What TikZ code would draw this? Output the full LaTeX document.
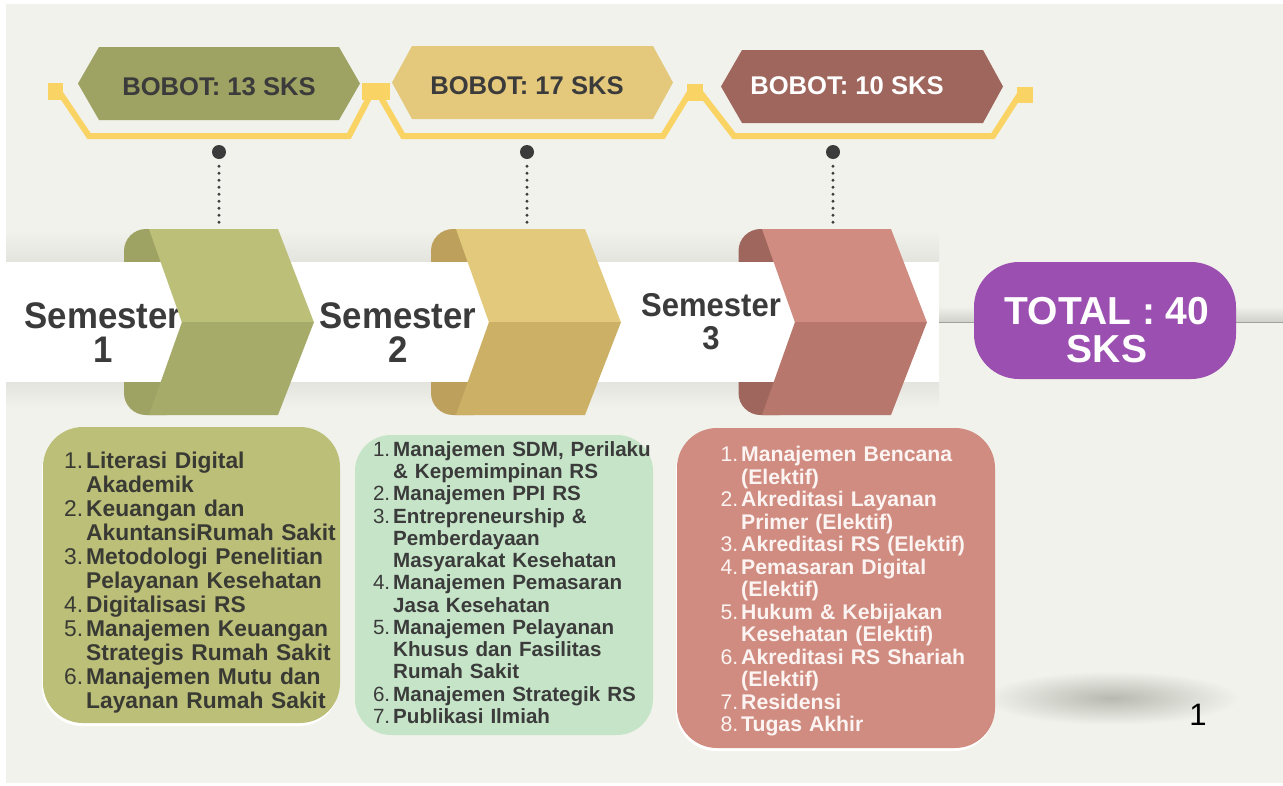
\documentclass[tikz,border=0pt]{standalone}
\usepackage{fontspec}
\setmainfont{Liberation Sans}
\newfontfamily\semfont[FakeStretch=0.94]{Liberation Sans}
\definecolor{bg}{HTML}{F1F2EB}
\definecolor{track}{HTML}{F9D465}
\definecolor{hexA}{HTML}{9EA262}
\definecolor{hexB}{HTML}{E4C97C}
\definecolor{hexC}{HTML}{9E665C}
\definecolor{upA}{HTML}{BBBF78}
\definecolor{loA}{HTML}{A6AB6A}
\definecolor{tabA}{HTML}{9EA262}
\definecolor{upB}{HTML}{E3C97C}
\definecolor{loB}{HTML}{CCB066}
\definecolor{tabB}{HTML}{BDA05C}
\definecolor{upC}{HTML}{D08C80}
\definecolor{loC}{HTML}{B7776C}
\definecolor{tabC}{HTML}{9E665C}
\definecolor{boxA}{HTML}{BBBF78}
\definecolor{boxB}{HTML}{C6E5C8}
\definecolor{boxC}{HTML}{D08C80}
\definecolor{purp}{HTML}{9B50B1}
\definecolor{txtdark}{HTML}{3B3B3B}
\definecolor{txtA}{HTML}{3A3A34}
\definecolor{txtlight}{HTML}{FCF4F2}
\definecolor{shadowc}{HTML}{E3E4DD}
\newlength\numw
\newcommand\itm[2]{\par\noindent\hangindent=\numw\hangafter=1\makebox[\numw][r]{\mdseries#1\hspace{3pt}}#2\par}
\tikzset{
  trk/.style={draw=track, line width=6pt, line join=miter},
  trksq/.style={fill=track},
  hexlbl/.style={font=\fontsize{25.6}{28}\selectfont\bfseries, inner sep=0pt, anchor=base},
  semlbl/.style={font=\semfont\bfseries\fontsize{37}{34}\selectfont, align=center, text=txtdark, inner sep=0pt},
  pin/.style={circle, fill=txtdark, minimum size=14pt, inner sep=0pt},
  dotline/.style={draw=txtdark, line width=3.2pt, line cap=round, dash pattern=on 0pt off 7pt, shorten <=7pt},
  listtxt/.style={anchor=base west, inner sep=0pt, text width=300pt, align=left},
  listbox/.style={rounded corners=40pt, inner sep=0pt},
}
\begin{document}
\begin{tikzpicture}[x=1pt,y=-1pt]
\useasboundingbox (0,0) rectangle (1283,785);
\fill[white] (0,0) rectangle (1283,785);
\fill[bg] (6,4) rectangle (1283,783);
% floor shadow
\shade[inner color={rgb,255:red,184;green,185;blue,177}, outer color=bg] (1112,698) ellipse (128 and 27);
% band shadows
\shade[top color=bg, bottom color=shadowc] (6,230) rectangle (939,262);
\shade[top color=shadowc, bottom color=bg] (6,382) rectangle (939,408);
\shade[top color=bg, bottom color={rgb,255:red,208;green,209;blue,202}] (939,306) rectangle (1283,322);
\draw[line width=1.5pt, draw={rgb,255:red,160;green,161;blue,154}] (939,322.5) -- (1283,322.5);
% track
\draw[trk] (58,90) -- (89,136) -- (349,136) -- (372,92);
\draw[trk] (380,96) -- (403,136) -- (663,136) -- (690,92);
\draw[trk] (700,92) -- (734,136) -- (993,136) -- (1020,94);
\fill[trksq] (48,83) rectangle (63,100);
\fill[trksq] (362,83) rectangle (390,100);
\fill[trksq] (687,84) rectangle (703,101);
\fill[trksq] (1017,87) rectangle (1033,103);
% hexagons
\fill[hexA] (78,83.5) -- (99,47) -- (339,47) -- (360,83.5) -- (339,120) -- (99,120) -- cycle;
\fill[hexB] (392,82.5) -- (412,46) -- (653,46) -- (673,82.5) -- (653,119) -- (412,119) -- cycle;
\fill[hexC] (721,86.5) -- (742,50) -- (983,50) -- (1003,86.5) -- (983,123) -- (742,123) -- cycle;
\node[hexlbl, text=txtdark] (h1) at (219,95) {BOBOT: 13 SKS};
\node[hexlbl, text=txtdark] (h2) at (527,94.5) {BOBOT: 17 SKS};
\node[hexlbl, text=white] (h3) at (847,94) {BOBOT: 10 SKS};
% pins and dotted connectors
\node[pin] (p1) at (219,152) {};
\node[pin] (p2) at (527,152) {};
\node[pin] (p3) at (833,152) {};
\coordinate (t1) at (219,229);
\coordinate (t2) at (527,229);
\coordinate (t3) at (833,229);
\draw[dotline] (p1) -- (t1);
\draw[dotline] (p2) -- (t2);
\draw[dotline] (p3) -- (t3);
% chevron tabs
\foreach \x/\t/\o in {149/tabA/25, 456/tabB/25, 762/tabC/23.5}
  \fill[\t, rounded corners=22pt] ({\x+40},229) -- ({\x-\o},229) -- ({\x-\o},415) -- ({\x+40},415) -- cycle;
% white band
\fill[white] (6,262) rectangle (939,382);
% semester labels
\node[semlbl] (s1) at (103,333) {Semester\\1};
\node[semlbl] (s2) at (398,333) {Semester\\2};
\node[semlbl, font=\semfont\bfseries\fontsize{33}{33}\selectfont] (s3) at (711,322) {Semester\\3};
% chevrons
\foreach \x/\u/\l in {149/upA/loA, 456/upB/loB, 762/upC/loC}{
  \fill[\u] (\x,229) -- ({\x+129},229) -- ({\x+165},322.5) -- ({\x+33},322.5) -- cycle;
  \fill[\l] ({\x+33},322) -- ({\x+165},322) -- ({\x+129},415) -- (\x,415) -- cycle;
}
% total
\node[fill=purp, rounded corners=45pt, minimum width=262pt, minimum height=117pt, inner sep=0pt] (total) at (1105,320.5) {};
\node[font=\fontsize{39}{38}\selectfont\bfseries, text=white, align=center, inner sep=0pt] (totaltxt) at (1107,330) {TOTAL : 40\\SKS};
% list boxes
\fill[white, rounded corners=40pt] (42,430) rectangle (339,726);
\fill[white, rounded corners=40pt] (676,431) rectangle (994,751);
\node[listbox, fill=boxA, minimum width=297pt, minimum height=296pt] (box1) at (191.5,575) {};
\node[listbox, fill=boxB, rounded corners=36pt, minimum width=298pt, minimum height=300pt] (box2) at (504,585) {};
\node[listbox, fill=boxC, minimum width=318pt, minimum height=320pt] (box3) at (836,588) {};
\node[listtxt, text=txtA, font=\fontsize{22.8}{24}\selectfont\bfseries] (list1) at (60,444) {\setlength\numw{26pt}%
\itm{1.}{Literasi Digital\newline Akademik}%
\itm{2.}{Keuangan dan\newline AkuntansiRumah Sakit}%
\itm{3.}{Metodologi Penelitian\newline Pelayanan Kesehatan}%
\itm{4.}{Digitalisasi RS}%
\itm{5.}{Manajemen Keuangan\newline Strategis Rumah Sakit}%
\itm{6.}{Manajemen Mutu dan\newline Layanan Rumah Sakit}};
\node[listtxt, text=txtdark, font=\fontsize{20.6}{22.25}\selectfont\bfseries] (list2) at (368,434) {\setlength\numw{25pt}%
\itm{1.}{Manajemen SDM, Perilaku\newline \& Kepemimpinan RS}%
\itm{2.}{Manajemen PPI RS}%
\itm{3.}{Entrepreneurship \&\newline Pemberdayaan\newline Masyarakat Kesehatan}%
\itm{4.}{Manajemen Pemasaran\newline Jasa Kesehatan}%
\itm{5.}{Manajemen Pelayanan\newline Khusus dan Fasilitas\newline Rumah Sakit}%
\itm{6.}{Manajemen Strategik RS}%
\itm{7.}{Publikasi Ilmiah}};
\node[listtxt, text=txtlight, font=\fontsize{21.2}{22.5}\selectfont\bfseries] (list3) at (716,439) {\setlength\numw{25pt}%
\itm{1.}{Manajemen Bencana\newline (Elektif)}%
\itm{2.}{Akreditasi Layanan\newline Primer (Elektif)}%
\itm{3.}{Akreditasi RS (Elektif)}%
\itm{4.}{Pemasaran Digital\newline (Elektif)}%
\itm{5.}{Hukum \& Kebijakan\newline Kesehatan (Elektif)}%
\itm{6.}{Akreditasi RS Shariah\newline (Elektif)}%
\itm{7.}{Residensi}%
\itm{8.}{Tugas Akhir}};
% page number
\node[font=\fontsize{31}{34}\selectfont, text=black, inner sep=0pt, anchor=base] (pnum) at (1198,725) {1};
\end{tikzpicture}
\end{document}
